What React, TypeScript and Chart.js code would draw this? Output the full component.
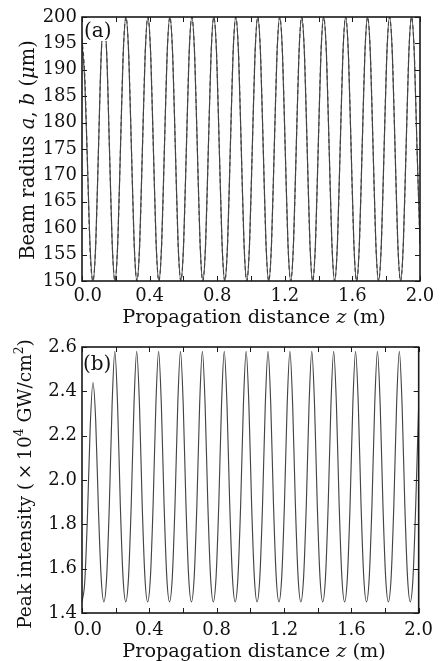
import React, { useEffect, useRef } from 'react';
import { Chart, registerables } from 'chart.js';
Chart.register(...registerables);

// Propagation distance z (m) sample positions
const zValues = [
  0, 0.0163, 0.0325, 0.0488, 0.065, 0.0813, 0.0975, 0.1138,
  0.13, 0.1463, 0.1625, 0.1788, 0.195, 0.2113, 0.2275, 0.2438,
  0.26, 0.2763, 0.2925, 0.3088, 0.325, 0.3413, 0.3575, 0.3738,
  0.39, 0.4063, 0.4225, 0.4388, 0.455, 0.4713, 0.4875, 0.5038,
  0.52, 0.5363, 0.5525, 0.5688, 0.585, 0.6013, 0.6175, 0.6338,
  0.65, 0.6663, 0.6825, 0.6988, 0.715, 0.7313, 0.7475, 0.7638,
  0.78, 0.7963, 0.8125, 0.8288, 0.845, 0.8613, 0.8775, 0.8938,
  0.91, 0.9263, 0.9425, 0.9588, 0.975, 0.9913, 1.0075, 1.0238,
  1.04, 1.0563, 1.0725, 1.0888, 1.105, 1.1213, 1.1375, 1.1538,
  1.17, 1.1863, 1.2025, 1.2188, 1.235, 1.2513, 1.2675, 1.2838,
  1.3, 1.3163, 1.3325, 1.3488, 1.365, 1.3813, 1.3975, 1.4138,
  1.43, 1.4463, 1.4625, 1.4788, 1.495, 1.5113, 1.5275, 1.5438,
  1.56, 1.5763, 1.5925, 1.6088, 1.625, 1.6413, 1.6575, 1.6738,
  1.69, 1.7063, 1.7225, 1.7388, 1.755, 1.7713, 1.7875, 1.8038,
  1.82, 1.8363, 1.8525, 1.8688, 1.885, 1.9013, 1.9175, 1.9338,
  1.95, 1.9663, 1.9825, 2.0,
];

// Beam radius a (um)
const radiusA = [
  195, 188, 172, 156, 150, 157, 175, 193,
  199, 193, 175, 157, 150, 157, 175, 193,
  200, 193, 175, 157, 150, 157, 175, 193,
  200, 193, 175, 157, 150, 157, 175, 193,
  200, 193, 175, 157, 150, 157, 175, 193,
  200, 193, 175, 157, 150, 157, 175, 193,
  200, 193, 175, 157, 150, 157, 175, 193,
  200, 193, 175, 157, 150, 157, 175, 193,
  200, 193, 175, 157, 150, 157, 175, 193,
  200, 193, 175, 157, 150, 157, 175, 193,
  200, 193, 175, 157, 150, 157, 175, 193,
  200, 193, 175, 157, 150, 157, 175, 193,
  200, 193, 175, 157, 150, 157, 175, 193,
  200, 193, 175, 157, 150, 157, 175, 193,
  200, 193, 175, 157, 150, 157, 175, 193,
  200, 193, 175, 157,
];

// Beam radius b (um)
const radiusB = [
  196, 189, 172, 155, 150, 157, 175, 193,
  199, 193, 175, 157, 150, 157, 175, 193,
  200, 193, 175, 157, 150, 157, 175, 193,
  200, 193, 175, 157, 150, 157, 175, 193,
  200, 193, 175, 157, 150, 157, 175, 193,
  200, 193, 175, 157, 150, 157, 175, 193,
  200, 193, 175, 157, 150, 157, 175, 193,
  200, 193, 175, 157, 150, 157, 175, 193,
  200, 193, 175, 157, 150, 157, 175, 193,
  200, 193, 175, 157, 150, 157, 175, 193,
  200, 193, 175, 157, 150, 157, 175, 193,
  200, 193, 175, 157, 150, 157, 175, 193,
  200, 193, 175, 157, 150, 157, 175, 193,
  200, 193, 175, 157, 150, 157, 175, 193,
  200, 193, 175, 157, 150, 157, 175, 193,
  200, 193, 175, 157,
];

// Peak intensity (x10^4 GW/cm^2)
const peakIntensity = [
  1.45, 1.54, 1.84, 2.24, 2.44, 2.27, 1.87, 1.56,
  1.45, 1.56, 1.89, 2.34, 2.58, 2.34, 1.89, 1.56,
  1.45, 1.56, 1.89, 2.34, 2.58, 2.34, 1.89, 1.56,
  1.45, 1.56, 1.89, 2.34, 2.58, 2.34, 1.89, 1.56,
  1.45, 1.56, 1.89, 2.34, 2.58, 2.34, 1.89, 1.56,
  1.45, 1.56, 1.89, 2.34, 2.58, 2.34, 1.89, 1.56,
  1.45, 1.56, 1.89, 2.34, 2.58, 2.34, 1.89, 1.56,
  1.45, 1.56, 1.89, 2.34, 2.58, 2.34, 1.89, 1.56,
  1.45, 1.56, 1.89, 2.34, 2.58, 2.34, 1.89, 1.56,
  1.45, 1.56, 1.89, 2.34, 2.58, 2.34, 1.89, 1.56,
  1.45, 1.56, 1.89, 2.34, 2.58, 2.34, 1.89, 1.56,
  1.45, 1.56, 1.89, 2.34, 2.58, 2.34, 1.89, 1.56,
  1.45, 1.56, 1.89, 2.34, 2.58, 2.34, 1.89, 1.56,
  1.45, 1.56, 1.89, 2.34, 2.58, 2.34, 1.89, 1.56,
  1.45, 1.56, 1.89, 2.34, 2.58, 2.34, 1.89, 1.56,
  1.45, 1.56, 1.89, 2.34,
];

const xRange = [0, 2.0];
const xTickStep = 0.2;
const radiusRange = [150, 200];
const radiusTickStep = 5;
const intensityRange = [1.4, 2.6];
const intensityTickStep = 0.2;

const FONT = 'DejaVu Serif';
const INK = '#111111';
const LINE = '#444444';

type Seg = { t: string; italic?: boolean; sup?: boolean };

const xTitleSegs: Seg[] = [{ t: 'Propagation distance ' }, { t: 'z', italic: true }, { t: ' (m)' }];
const yTitleTop: Seg[] = [
  { t: 'Beam radius ' }, { t: 'a', italic: true }, { t: ', ' }, { t: 'b', italic: true },
  { t: ' (' }, { t: 'μ', italic: true }, { t: 'm)' },
];
const yTitleBottom: Seg[] = [
  { t: 'Peak intensity (\u2009×\u200910' }, { t: '4', sup: true }, { t: ' GW/cm' }, { t: '2', sup: true }, { t: ')' },
];

function segFont(s: Seg, size: number) {
  const sz = s.sup ? size * 0.66 : size;
  return `${s.italic ? 'italic ' : ''}${sz}px "${FONT}"`;
}
function richWidth(ctx: CanvasRenderingContext2D, segs: Seg[], size: number) {
  let w = 0;
  for (const s of segs) { ctx.font = segFont(s, size); w += ctx.measureText(s.t).width; }
  return w;
}
function drawRich(ctx: CanvasRenderingContext2D, segs: Seg[], x: number, y: number, size: number) {
  let cx = x;
  for (const s of segs) {
    ctx.font = segFont(s, size);
    ctx.fillText(s.t, cx, s.sup ? y - size * 0.42 : y);
    cx += ctx.measureText(s.t).width;
  }
}

interface PanelCfg {
  label: string; labelX: number; labelY: number; labelBox: number[] | null;
  xTitleCX: number; xTitleY: number; xTitleSize: number;
  yTitle: Seg[]; yTitleX: number; yTitleCY: number; yTitleSize: number;
}

function panelPlugin(cfg: PanelCfg) {
  return {
    id: 'panelDecor',
    afterDraw(chart: any) {
      const ctx: CanvasRenderingContext2D = chart.ctx;
      const a = chart.chartArea;
      const xs = chart.scales.x, ys = chart.scales.y;
      ctx.save();
      ctx.strokeStyle = '#1a1a1a';
      ctx.lineWidth = 1;
      const tl = 5;
      ctx.beginPath();
      for (const t of xs.ticks) {
        const px = Math.round(xs.getPixelForValue(t.value)) + 0.5;
        ctx.moveTo(px, a.bottom); ctx.lineTo(px, a.bottom - tl);
        ctx.moveTo(px, a.top); ctx.lineTo(px, a.top + tl);
      }
      for (const t of ys.ticks) {
        const py = Math.round(ys.getPixelForValue(t.value)) + 0.5;
        ctx.moveTo(a.left, py); ctx.lineTo(a.left + tl, py);
        ctx.moveTo(a.right, py); ctx.lineTo(a.right - tl, py);
      }
      ctx.stroke();
      ctx.lineWidth = 1.6;
      ctx.strokeRect(a.left, a.top, a.right - a.left, a.bottom - a.top);

      if (cfg.labelBox) {
        ctx.fillStyle = '#ffffff';
        const [bx, by, bw, bh] = cfg.labelBox;
        ctx.fillRect(bx, by, bw, bh);
      }
      ctx.fillStyle = INK;
      ctx.textAlign = 'left';
      ctx.textBaseline = 'alphabetic';
      ctx.font = `20px "${FONT}"`;
      ctx.fillText(cfg.label, cfg.labelX, cfg.labelY);

      const xw = richWidth(ctx, xTitleSegs, cfg.xTitleSize);
      drawRich(ctx, xTitleSegs, cfg.xTitleCX - xw / 2, cfg.xTitleY, cfg.xTitleSize);

      const yw = richWidth(ctx, cfg.yTitle, cfg.yTitleSize);
      ctx.translate(cfg.yTitleX, cfg.yTitleCY);
      ctx.rotate(-Math.PI / 2);
      drawRich(ctx, cfg.yTitle, -yw / 2, 0, cfg.yTitleSize);
      ctx.restore();
    },
  };
}

function xLabel(v: any) {
  const n = Math.round(Number(v) * 10);
  if (n % 4 !== 0) return '';
  const s = (n / 10).toFixed(1);
  return n === 0 ? '  ' + s : s;
}

function makeConfig(
  datasets: any[], yRange: number[], yStep: number, yFmt: (v: number) => string,
  padRight: number, xAxisH: number, xPad: number, cfg: PanelCfg,
): any {
  return {
    type: 'line',
    data: { datasets },
    options: {
      animation: false,
      responsive: false,
      devicePixelRatio: 1,
      events: [],
      layout: { padding: { left: 0, right: padRight, top: 17, bottom: 0 } },
      plugins: { legend: { display: false }, tooltip: { enabled: false }, title: { display: false } },
      scales: {
        x: {
          type: 'linear', min: xRange[0], max: xRange[1],
          grid: { display: false, drawTicks: false }, border: { display: false },
          ticks: {
            stepSize: xTickStep, autoSkip: false, maxRotation: 0, minRotation: 0, padding: xPad,
            color: INK, font: { family: FONT, size: 18 }, callback: xLabel,
          },
          afterFit: (s: any) => { s.height = xAxisH; },
        },
        y: {
          type: 'linear', min: yRange[0], max: yRange[1],
          grid: { display: false, drawTicks: false }, border: { display: false },
          ticks: {
            stepSize: yStep, autoSkip: false, padding: 5,
            color: INK, font: { family: FONT, size: 18 }, callback: (v: any) => yFmt(Number(v)),
          },
          afterFit: (s: any) => { s.width = 82; },
        },
      },
    },
    plugins: [panelPlugin(cfg)],
  };
}

const lineStyle = {
  borderColor: LINE, borderWidth: 1.15, pointRadius: 0, fill: false,
  cubicInterpolationMode: 'monotone',
};

export default function App() {
  const topRef = useRef<HTMLCanvasElement>(null);
  const botRef = useRef<HTMLCanvasElement>(null);

  useEffect(() => {
    const topSets = [
      { ...lineStyle, label: 'a', data: zValues.map((z, i) => ({ x: z, y: radiusA[i] })) },
      { ...lineStyle, label: 'b', borderDash: [4, 3], data: zValues.map((z, i) => ({ x: z, y: radiusB[i] })) },
    ];
    const botSets = [
      { ...lineStyle, label: 'I', data: zValues.map((z, i) => ({ x: z, y: peakIntensity[i] })) },
    ];
    const c1 = new Chart(topRef.current!, makeConfig(
      topSets, radiusRange, radiusTickStep, (v) => String(Math.round(v)), 20, 49, 5,
      {
        label: '(a)', labelX: 84, labelY: 37, labelBox: [83, 19, 30, 22],
        xTitleCX: 254, xTitleY: 323, xTitleSize: 19.3,
        yTitle: yTitleTop, yTitleX: 34, yTitleCY: 150, yTitleSize: 19.5,
      },
    ));
    const c2 = new Chart(botRef.current!, makeConfig(
      botSets, intensityRange, intensityTickStep, (v) => v.toFixed(1), 17, 48, 7,
      {
        label: '(b)', labelX: 83, labelY: 40, labelBox: null,
        xTitleCX: 254, xTitleY: 327, xTitleSize: 19.3,
        yTitle: yTitleBottom, yTitleX: 31, yTitleCY: 154, yTitleSize: 18.6,
      },
    ));
    return () => { c1.destroy(); c2.destroy(); };
  }, []);

  return (
    <div style={{ position: 'absolute', left: 0, top: 0, width: 440, height: 661, background: '#ffffff' }}>
      <canvas ref={topRef} width={440} height={330} style={{ display: 'block', width: 440, height: 330 }} />
      <canvas ref={botRef} width={440} height={331} style={{ display: 'block', width: 440, height: 331 }} />
    </div>
  );
}
